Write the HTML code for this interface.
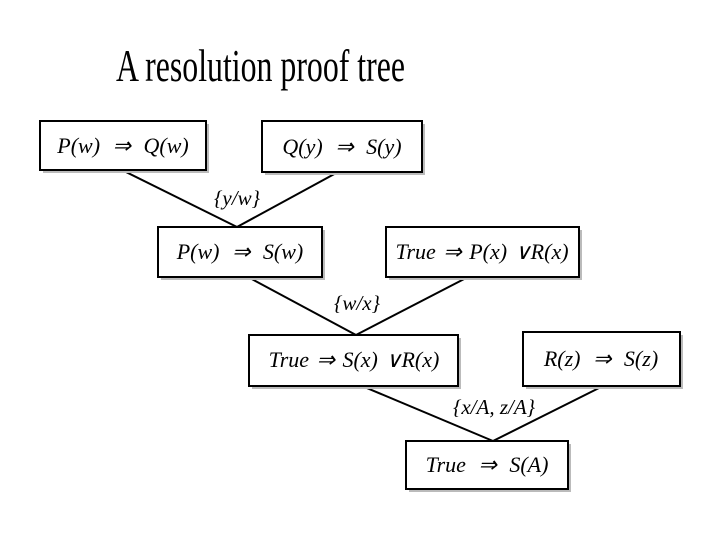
<!DOCTYPE html>
<html><head><style>body{margin:0;background:#fff}svg{display:block}</style></head>
<body>
<svg width="720" height="540" viewBox="0 0 720 540" xmlns="http://www.w3.org/2000/svg">
<text x="116" y="81" font-family="Liberation Serif, serif" font-size="46" textLength="289" lengthAdjust="spacingAndGlyphs">A resolution proof tree</text>
<g stroke="#000" stroke-width="2" fill="none">
<line x1="122" y1="170" x2="237" y2="227"/><line x1="338" y1="172" x2="237" y2="227"/>
<line x1="248" y1="277" x2="356" y2="335"/><line x1="468" y1="277" x2="356" y2="335"/>
<line x1="362" y1="386" x2="493" y2="441"/><line x1="603" y1="386" x2="493" y2="441"/>
</g>
<g fill="#bbb">
<rect x="43" y="124" width="166" height="49"/><rect x="265" y="124" width="160" height="51"/>
<rect x="161" y="230" width="164" height="50"/><rect x="389" y="230" width="193" height="50"/>
<rect x="252" y="338" width="209" height="51"/><rect x="526" y="335" width="157" height="54"/>
<rect x="409" y="444" width="162" height="48"/>
</g>
<g fill="#fff" stroke="#000" stroke-width="2">
<rect x="40" y="121" width="166" height="49"/><rect x="262" y="121" width="160" height="51"/>
<rect x="158" y="227" width="164" height="50"/><rect x="386" y="227" width="193" height="50"/>
<rect x="249" y="335" width="209" height="51"/><rect x="523" y="332" width="157" height="54"/>
<rect x="406" y="441" width="162" height="48"/>
</g>
<g font-family="Liberation Serif, serif" font-style="italic" font-size="22" text-anchor="middle" word-spacing="7">
<text x="123" y="153">P(w) ⇒ Q(w)</text>
<text x="342" y="154">Q(y) ⇒ S(y)</text>
<text x="240" y="259">P(w) ⇒ S(w)</text>
<text x="482" y="259" word-spacing="2">True ⇒ P(x) ∨R(x)</text>
<text x="354" y="367" word-spacing="2">True ⇒ S(x) ∨R(x)</text>
<text x="601" y="366">R(z) ⇒ S(z)</text>
<text x="487" y="472">True ⇒ S(A)</text>
<text x="237" y="205" font-size="21" word-spacing="0">{y/w}</text>
<text x="357" y="310" font-size="21" word-spacing="0">{w/x}</text>
<text x="494" y="414" font-size="21" word-spacing="0">{x/A, z/A}</text>
</g>
</svg>
</body></html>
